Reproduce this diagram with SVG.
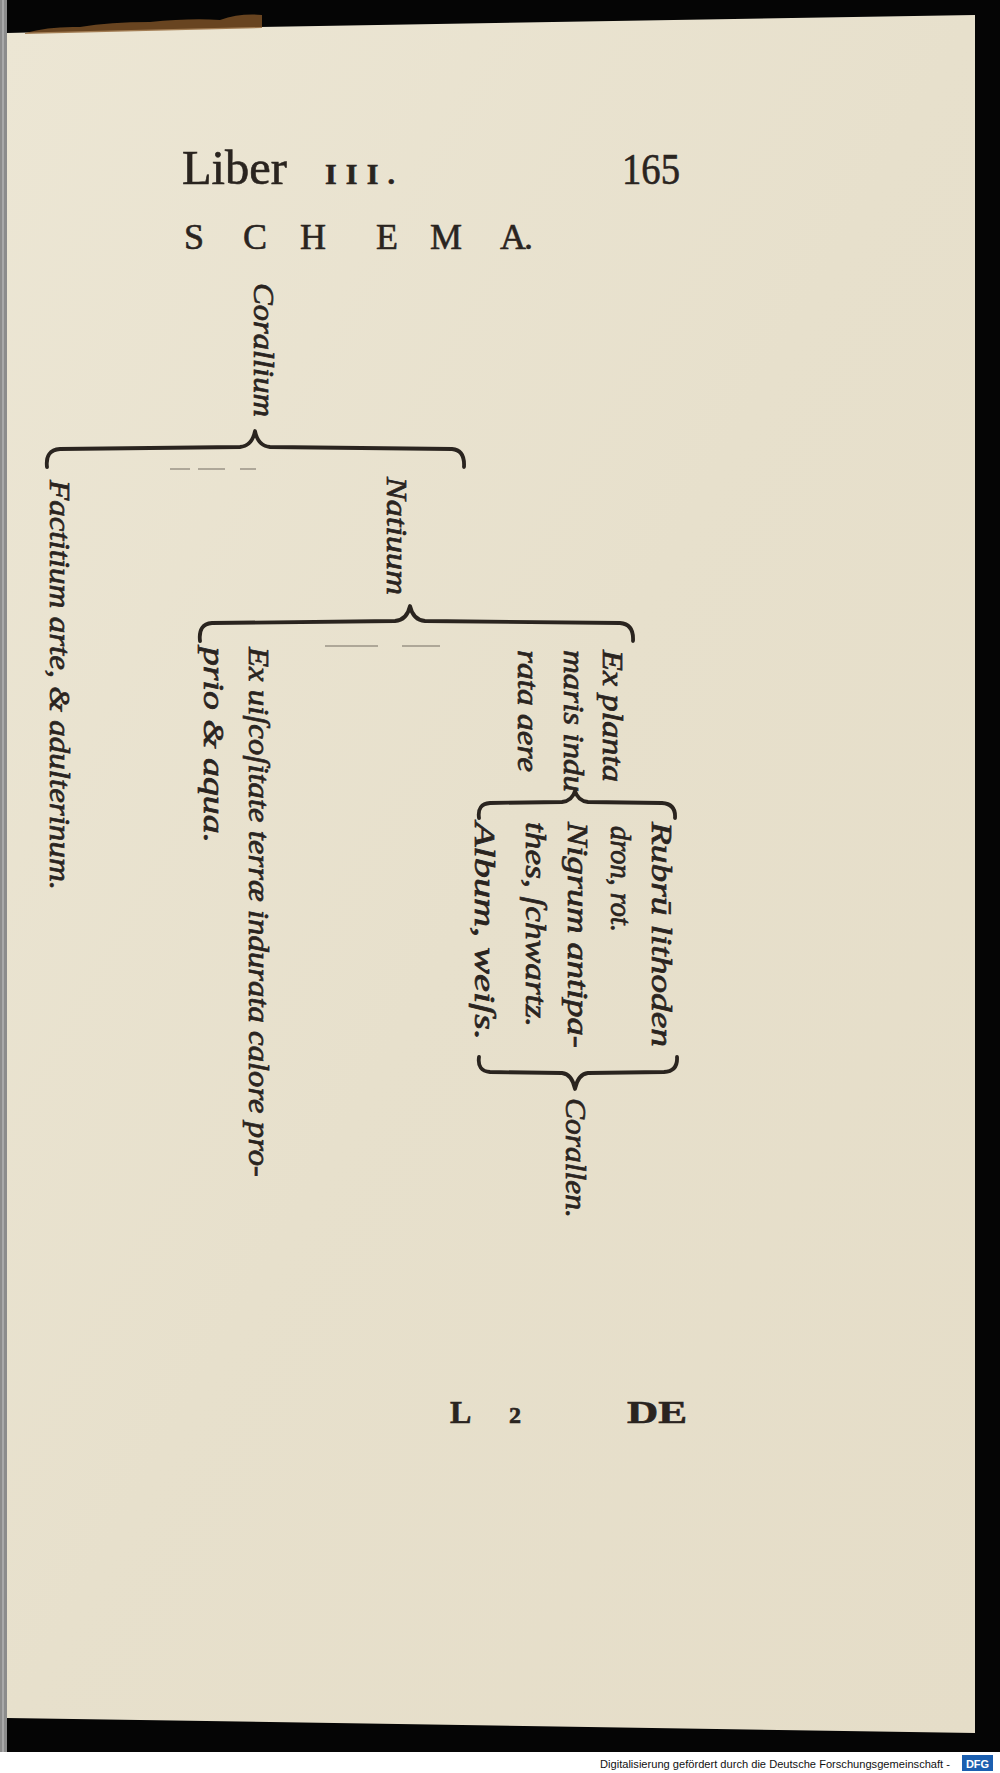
<svg xmlns="http://www.w3.org/2000/svg" width="1000" height="1773" viewBox="0 0 1000 1773">
<defs>
<linearGradient id="paper" x1="0" y1="0" x2="1" y2="1">
<stop offset="0" stop-color="#ece6d4"/>
<stop offset="0.5" stop-color="#e7e0cc"/>
<stop offset="1" stop-color="#e5ddc8"/>
</linearGradient>
<style>
.it{font-family:"Liberation Serif","Times New Roman",serif;font-style:italic;font-size:30px;fill:#2a241f;stroke:#2a241f;stroke-width:0.7;}
.rm{font-family:"Liberation Serif","Times New Roman",serif;fill:#2a241f;stroke:#2a241f;stroke-width:0.6;}
.br{fill:none;stroke:#2a241f;stroke-width:3.8;stroke-linecap:round;stroke-linejoin:round;}
.faint{fill:none;stroke:#9a9486;stroke-width:1.5;}
</style>
</defs>
<!-- scan background -->
<rect x="0" y="0" width="1000" height="1773" fill="#050505"/>
<polygon points="7,33 260,27 975,15 975,1733 7,1718" fill="url(#paper)"/>
<rect x="0" y="0" width="7" height="1752" fill="#8c8c8c"/>
<rect x="2" y="0" width="2" height="1752" fill="#a9a9a9"/>
<path d="M25,33 Q50,26 80,27 Q110,22 150,22 Q190,18 220,20 Q240,13 262,15 L262,28 L25,34 Z" fill="#8a5a2a" opacity="0.75"/>
<rect x="0" y="1752" width="1000" height="21" fill="#ffffff"/>
<text x="600" y="1768" font-family="Liberation Sans Narrow,Liberation Sans,Arial,sans-serif" font-size="11" fill="#111" textLength="350" lengthAdjust="spacingAndGlyphs">Digitalisierung gefördert durch die Deutsche Forschungsgemeinschaft -</text>
<rect x="962" y="1755" width="31" height="16" fill="#1b5fb0"/>
<text x="977.5" y="1768" text-anchor="middle" font-family="Liberation Sans,Arial,sans-serif" font-weight="bold" font-size="11" fill="#ffffff">DFG</text>

<!-- header -->
<g id="header">
<text class="rm" x="182" y="184" font-size="48" textLength="105" lengthAdjust="spacingAndGlyphs">Liber</text>
<text class="rm" x="325" y="184" font-size="30" font-weight="bold" textLength="84" lengthAdjust="spacing" letter-spacing="14">III.</text>
<text class="rm" x="622" y="184" font-size="44" textLength="58" lengthAdjust="spacingAndGlyphs">165</text>
<text class="rm" y="249" font-size="36"><tspan x="184">S</tspan><tspan x="243">C</tspan><tspan x="300">H</tspan><tspan x="376">E</tspan><tspan x="430">M</tspan><tspan x="500">A</tspan><tspan x="524">.</tspan></text>
</g>

<!-- connectors (braces) -->
<g id="connectors">
<path class="br" d="M47,467 Q45,450 60,449 L240,447 Q252,446 255,431 Q258,446 270,447 L452,449 Q465,450 464,467"/>
<path class="br" d="M200,641 Q198,624 212,623 L395,621 Q407,620 410,606 Q413,620 425,621 L620,623 Q634,624 633,641"/>
<path class="br" d="M479,818 Q477,804 490,803 L562,802 Q572,801 575,791 Q578,801 588,802 L662,803 Q676,804 675,818"/>
<path class="br" d="M479,1057 Q477,1071 490,1072 L562,1073 Q572,1074 575,1089 Q578,1074 588,1073 L664,1072 Q678,1071 677,1057"/>
<path class="faint" d="M170,469 L190,469 M198,469 L225,469 M240,469 L256,469"/>
<path class="faint" d="M325,646 L378,646 M402,646 L440,646"/>
</g>

<!-- nodes -->
<g id="n-corallium"><text class="it" transform="translate(254,283) rotate(90)" textLength="134" lengthAdjust="spacingAndGlyphs">Corallium</text></g>
<g id="n-factitium"><text class="it" transform="translate(50,480) rotate(90)" textLength="410" lengthAdjust="spacingAndGlyphs">Factitium arte, &amp; adulterinum.</text></g>
<g id="n-natiuum"><text class="it" transform="translate(387,477) rotate(90)" textLength="118" lengthAdjust="spacingAndGlyphs">Natiuum</text></g>
<g id="n-viscositate">
<text class="it" transform="translate(249,647) rotate(90)" textLength="530" lengthAdjust="spacingAndGlyphs">Ex uiſcoſitate terræ indurata calore pro-</text>
<text class="it" transform="translate(204,647) rotate(90)" textLength="196" lengthAdjust="spacingAndGlyphs">prio &amp; aqua.</text>
</g>
<g id="n-explanta">
<text class="it" transform="translate(603,650) rotate(90)" textLength="132" lengthAdjust="spacingAndGlyphs">Ex planta</text>
<text class="it" transform="translate(564,650) rotate(90)" textLength="142" lengthAdjust="spacingAndGlyphs">maris indu</text>
<text class="it" transform="translate(518,650) rotate(90)" textLength="122" lengthAdjust="spacingAndGlyphs">rata aere</text>
</g>
<g id="n-rubrum">
<text class="it" transform="translate(652,822) rotate(90)" textLength="225" lengthAdjust="spacingAndGlyphs">Rubrū lithoden</text>
<text class="it" transform="translate(611,826) rotate(90)" textLength="106" lengthAdjust="spacingAndGlyphs">dron, rot.</text>
</g>
<g id="n-nigrum">
<text class="it" transform="translate(568,822) rotate(90)" textLength="226" lengthAdjust="spacingAndGlyphs">Nigrum antipa-</text>
<text class="it" transform="translate(526,822) rotate(90)" textLength="205" lengthAdjust="spacingAndGlyphs">thes, ſchwartz.</text>
</g>
<g id="n-album"><text class="it" transform="translate(475,822) rotate(90)" textLength="218" lengthAdjust="spacingAndGlyphs">Album, weiſs.</text></g>
<g id="n-corallen"><text class="it" transform="translate(566,1098) rotate(90)" textLength="120" lengthAdjust="spacingAndGlyphs">Corallen.</text></g>

<!-- footer -->
<g id="footer">
<text class="rm" x="450" y="1423" font-size="32" font-weight="bold">L</text>
<text class="rm" x="509" y="1423" font-size="24" font-weight="bold">2</text>
<text class="rm" x="627" y="1423" font-size="32" font-weight="bold" textLength="60" lengthAdjust="spacingAndGlyphs">DE</text>
</g>
</svg>
